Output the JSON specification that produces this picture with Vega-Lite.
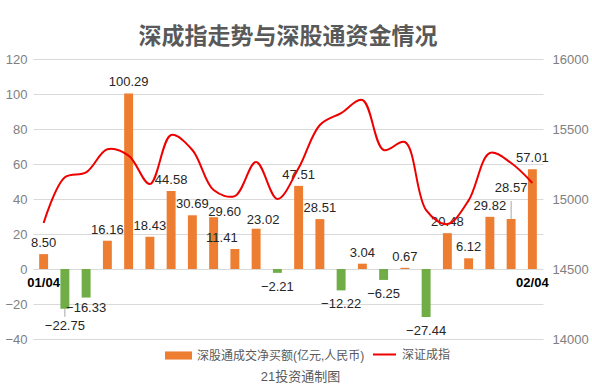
{
  "$schema": "https://vega.github.io/schema/vega-lite/v6.json",
  "width": 510,
  "height": 280,
  "autosize": {"type": "none"},
  "padding": {"top": 59, "left": 33, "right": 49, "bottom": 52},
  "background": "white",
  "config": {
    "font": "Liberation Sans, Noto Sans CJK SC",
    "view": {"stroke": null}
  },
  "title": {
    "text": "深成指走势与深股通资金情况",
    "font": "Noto Sans CJK SC",
    "fontSize": 23,
    "fontWeight": "bold",
    "color": "#595959",
    "offset": 4
  },
  "data": {
    "values": [
      {"date": "01/04", "net": 8.50, "index": 14829},
      {"date": "01/05", "net": -22.75, "index": 15155},
      {"date": "01/06", "net": -16.33, "index": 15190},
      {"date": "01/07", "net": 16.16, "index": 15355},
      {"date": "01/08", "net": 100.29, "index": 15310},
      {"date": "01/11", "net": 18.43, "index": 15107},
      {"date": "01/12", "net": 44.58, "index": 15457},
      {"date": "01/13", "net": 30.69, "index": 15350},
      {"date": "01/14", "net": 29.60, "index": 15064},
      {"date": "01/15", "net": 11.41, "index": 15021},
      {"date": "01/18", "net": 23.02, "index": 15264},
      {"date": "01/19", "net": -2.21, "index": 15000},
      {"date": "01/20", "net": 47.51, "index": 15221},
      {"date": "01/21", "net": 28.51, "index": 15529},
      {"date": "01/22", "net": -12.22, "index": 15614},
      {"date": "01/25", "net": 3.04, "index": 15707},
      {"date": "01/26", "net": -6.25, "index": 15350},
      {"date": "01/27", "net": 0.67, "index": 15407},
      {"date": "01/28", "net": -27.44, "index": 14921},
      {"date": "01/29", "net": 20.48, "index": 14821},
      {"date": "02/01", "net": 6.12, "index": 14990},
      {"date": "02/02", "net": 29.82, "index": 15329},
      {"date": "02/03", "net": 28.57, "index": 15257},
      {"date": "02/04", "net": 57.01, "index": 15114}
    ]
  },
  "encoding": {
    "x": {
      "field": "date",
      "type": "ordinal",
      "sort": null,
      "scale": {"type": "band", "paddingInner": 0.58, "paddingOuter": 0.29},
      "axis": {
        "values": ["01/04", "02/04"],
        "offset": -70,
        "domain": false,
        "ticks": false,
        "grid": false,
        "labelAngle": 0,
        "labelFontSize": 13,
        "labelFontWeight": "bold",
        "labelColor": "#000000",
        "labelPadding": 7,
        "title": "21投资通制图",
        "titleFontSize": 13,
        "titleFontWeight": "normal",
        "titleColor": "#595959",
        "titleX": 267,
        "titleY": 107,
        "titleAlign": "center",
        "titleBaseline": "middle"
      }
    }
  },
  "layer": [
    {
      "encoding": {
        "y": {
          "field": "net",
          "type": "quantitative",
          "scale": {"domain": [-40, 120], "nice": false, "zero": false},
          "axis": {
            "orient": "left",
            "values": [-40, -20, 0, 20, 40, 60, 80, 100, 120],
            "title": null,
            "domain": false,
            "ticks": false,
            "grid": true,
            "gridColor": "#d9d9d9",
            "gridWidth": 1,
            "labelFontSize": 13,
            "labelColor": "#808080",
            "labelPadding": 6
          }
        }
      },
      "layer": [
        {
          "mark": {"type": "bar"},
          "encoding": {
            "fill": {
              "condition": {"test": "datum.net < 0", "value": "#70AD47"},
              "datum": "深股通成交净买额(亿元,人民币)",
              "scale": {"domain": ["深股通成交净买额(亿元,人民币)"], "range": ["#ED7D31"]},
              "legend": {
                "title": null,
                "orient": "none",
                "legendX": 132,
                "legendY": 283,
                "padding": 0,
                "symbolType": "M-1,-0.3H1V0.3H-1Z",
                "symbolSize": 729,
                "symbolStrokeWidth": 0,
                "labelFontSize": 12,
                "labelColor": "#595959",
                "labelOffset": 5,
                "labelLimit": 400
              }
            }
          }
        },
        {
          "transform": [{"filter": {"field": "date", "oneOf": ["02/03"]}}],
          "mark": {"type": "rule", "color": "#a6a6a6", "strokeWidth": 1, "y2Offset": -18},
          "encoding": {"y2": {"field": "net"}}
        },
        {
          "transform": [{"filter": {"field": "date", "oneOf": ["01/05"]}}],
          "mark": {"type": "rule", "color": "#a6a6a6", "strokeWidth": 1, "y2Offset": 8},
          "encoding": {"y2": {"field": "net"}}
        },
        {
          "transform": [
            {"filter": "datum.net >= 0"},
            {"filter": {"not": {"field": "date", "oneOf": ["01/14", "01/15", "01/18", "02/03"]}}}
          ],
          "mark": {"type": "text", "baseline": "bottom", "dy": -4, "fontSize": 13, "color": "#262626"},
          "encoding": {"text": {"field": "net", "type": "quantitative", "format": ".2f"}}
        },
        {
          "transform": [{"filter": {"field": "date", "oneOf": ["01/14"]}}],
          "mark": {"type": "text", "baseline": "bottom", "dy": 2, "dx": 11, "fontSize": 13, "color": "#262626"},
          "encoding": {"text": {"field": "net", "type": "quantitative", "format": ".2f"}}
        },
        {
          "transform": [{"filter": {"field": "date", "oneOf": ["01/15"]}}],
          "mark": {"type": "text", "baseline": "bottom", "dy": -4, "dx": -13, "fontSize": 13, "color": "#262626"},
          "encoding": {"text": {"field": "net", "type": "quantitative", "format": ".2f"}}
        },
        {
          "transform": [{"filter": {"field": "date", "oneOf": ["01/18"]}}],
          "mark": {"type": "text", "baseline": "bottom", "dy": -2, "dx": 7, "fontSize": 13, "color": "#262626"},
          "encoding": {"text": {"field": "net", "type": "quantitative", "format": ".2f"}}
        },
        {
          "transform": [{"filter": {"field": "date", "oneOf": ["02/03"]}}],
          "mark": {"type": "text", "baseline": "bottom", "dy": -24, "fontSize": 13, "color": "#262626"},
          "encoding": {"text": {"field": "net", "type": "quantitative", "format": ".2f"}}
        },
        {
          "transform": [
            {"filter": "datum.net < 0"},
            {"filter": {"not": {"field": "date", "oneOf": ["01/05", "01/06"]}}}
          ],
          "mark": {"type": "text", "baseline": "top", "dy": 8, "fontSize": 13, "color": "#262626"},
          "encoding": {"text": {"field": "net", "type": "quantitative", "format": ".2f"}}
        },
        {
          "transform": [{"filter": {"field": "date", "oneOf": ["01/05"]}}],
          "mark": {"type": "text", "baseline": "top", "dy": 11, "fontSize": 13, "color": "#262626"},
          "encoding": {"text": {"field": "net", "type": "quantitative", "format": ".2f"}}
        },
        {
          "transform": [{"filter": {"field": "date", "oneOf": ["01/06"]}}],
          "mark": {"type": "text", "baseline": "top", "dy": 4, "fontSize": 13, "color": "#262626"},
          "encoding": {"text": {"field": "net", "type": "quantitative", "format": ".2f"}}
        }
      ]
    },
    {
      "mark": {"type": "line", "interpolate": "catmull-rom", "strokeWidth": 2},
      "encoding": {
        "y": {
          "field": "index",
          "type": "quantitative",
          "scale": {"domain": [14000, 16000], "nice": false, "zero": false},
          "axis": {
            "orient": "right",
            "values": [14000, 14500, 15000, 15500, 16000],
            "format": "d",
            "title": null,
            "domain": false,
            "ticks": false,
            "grid": false,
            "labelFontSize": 13,
            "labelColor": "#808080",
            "labelPadding": 9
          }
        },
        "stroke": {
          "datum": "深证成指",
          "scale": {"domain": ["深证成指"], "range": ["#EE0000"]},
          "legend": {
            "title": null,
            "orient": "none",
            "legendX": 339,
            "legendY": 283,
            "padding": 0,
            "symbolType": "stroke",
            "symbolSize": 529,
            "symbolStrokeWidth": 2,
            "labelFontSize": 12,
            "labelColor": "#595959",
            "labelOffset": 5,
            "labelLimit": 200
          }
        }
      }
    }
  ],
  "resolve": {"scale": {"y": "independent"}}
}
